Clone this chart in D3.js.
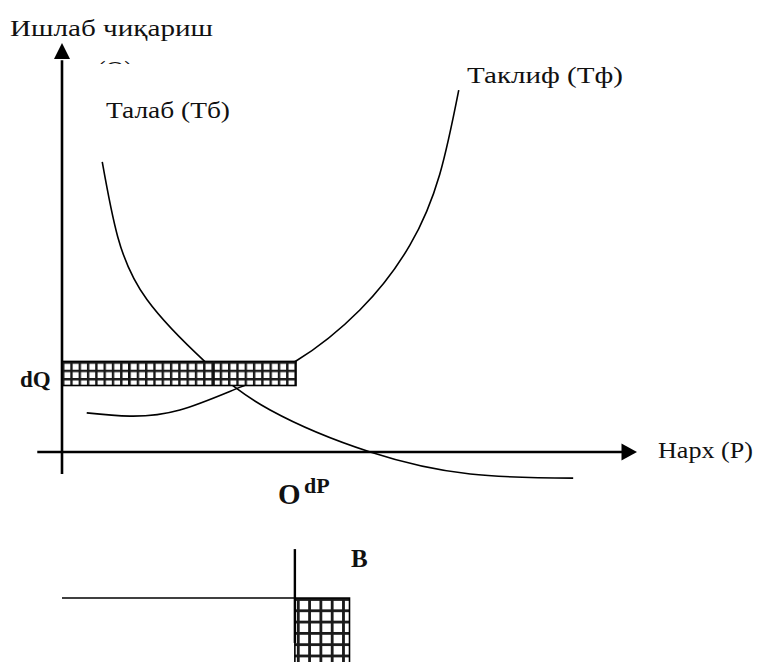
<!DOCTYPE html>
<html>
<head>
<meta charset="utf-8">
<script src="https://cdn.jsdelivr.net/npm/d3@7"></script>
<style>
    body { margin: 0; background: #fff; }
    text { font-family: "Liberation Serif", "DejaVu Serif", serif; fill: #111; }
    .bold { font-weight: bold; }
</style>
</head>
<body>
<svg id="chart" width="762" height="662"></svg>
<script>
// price (P) / quantity (Q) readings, axes 0..100
const demandP = [7.0, 9.7, 14.8, 24.9, 36.2, 53.6, 71.0, 88.9];
const demandQ = [71.1, 52.7, 37.3, 22.1, 10.3, 0, -5.4, -6.4];

const supplyP = [4.3, 11.8, 20.5, 31.0, 40.7, 51.8, 60.5, 65.7, 69.0];
const supplyQ = [9.6, 8.8, 10.3, 15.9, 22.3, 34.8, 50.7, 68.1, 88.7];

// dQ band
const bandP = [0, 40.7];
const bandQ = [16.3, 22.2];
const bandDividers = [11.65, 26.4];

// small inset below (B)
const insetLineP = [0, 40.5];
const insetLineQ = -35.8;
const insetStemQ = [-23.8, -46.8];
const insetBoxP = [40.5, 50.0];
const insetBoxQ = [-35.8, -53];

const labels = {
    yAxis: 'Ишлаб чиқариш',
    yAxisSub: '(Q)',
    demand: 'Талаб (Тб)',
    supply: 'Таклиф (Тф)',
    xAxis: 'Нарх (Р)'
};

const svg = d3.select('#chart');

const x = d3.scaleLinear().domain([0, 100]).range([62, 637]);
const y = d3.scaleLinear().domain([0, 100]).range([452, 44]);

const defs = svg.append('defs');

function grid(id, size, lw, x0, y0) {
    const p = defs.append('pattern')
        .attr('id', id)
        .attr('patternUnits', 'userSpaceOnUse')
        .attr('x', x0).attr('y', y0)
        .attr('width', size).attr('height', size);
    p.append('rect').attr('width', size).attr('height', size).attr('fill', '#fff');
    p.append('rect').attr('width', lw).attr('height', size).attr('fill', '#1a1a1a');
    p.append('rect').attr('width', size).attr('height', lw).attr('fill', '#1a1a1a');
}
grid('hatch', 8.3, 2.4, x(bandP[0]), y(bandQ[1]));
grid('hatch2', 11.3, 2.8, x(insetBoxP[0]) + 2, y(insetBoxQ[0]));

defs.append('clipPath').attr('id', 'qclip')
    .append('rect').attr('x', 0).attr('y', 0).attr('width', 300).attr('height', 64);

// axes
svg.append('line')
    .attr('x1', x(0)).attr('x2', x(0))
    .attr('y1', y(-5.4)).attr('y2', y(96))
    .attr('stroke', '#000').attr('stroke-width', 2.6);
svg.append('line')
    .attr('x1', x(-4.3)).attr('x2', x(97.5))
    .attr('y1', y(0)).attr('y2', y(0))
    .attr('stroke', '#000').attr('stroke-width', 2.6);

svg.append('path')
    .attr('d', `M${x(0)},${y(100) - 1} L${x(0) - 8},${y(96.3)} L${x(0) + 8},${y(96.3)} Z`)
    .attr('fill', '#000');
svg.append('path')
    .attr('d', `M${x(100)},${y(0)} L${x(97.3)},${y(0) - 8.5} L${x(97.3)},${y(0) + 8.5} Z`)
    .attr('fill', '#000');

// curves
const line = d3.line()
    .x(d => x(d[0]))
    .y(d => y(d[1]))
    .curve(d3.curveNatural);

svg.append('path')
    .datum(demandP.map((p, i) => [p, demandQ[i]]))
    .attr('d', line)
    .attr('fill', 'none').attr('stroke', '#000').attr('stroke-width', 1.6);

svg.append('path')
    .datum(supplyP.map((p, i) => [p, supplyQ[i]]))
    .attr('d', line)
    .attr('fill', 'none').attr('stroke', '#000').attr('stroke-width', 1.6);

// dQ band
svg.append('rect')
    .attr('x', x(bandP[0]))
    .attr('y', y(bandQ[1]))
    .attr('width', x(bandP[1]) - x(bandP[0]))
    .attr('height', y(bandQ[0]) - y(bandQ[1]))
    .attr('fill', 'url(#hatch)')
    .attr('stroke', '#000').attr('stroke-width', 1.6);

svg.selectAll('.divider')
    .data(bandDividers)
    .join('line')
    .attr('class', 'divider')
    .attr('x1', d => x(d)).attr('x2', d => x(d))
    .attr('y1', y(bandQ[1])).attr('y2', y(bandQ[0]))
    .attr('stroke', '#111').attr('stroke-width', 2);

// inset
svg.append('rect')
    .attr('x', x(insetBoxP[0]))
    .attr('y', y(insetBoxQ[0]))
    .attr('width', x(insetBoxP[1]) - x(insetBoxP[0]))
    .attr('height', y(insetBoxQ[1]) - y(insetBoxQ[0]))
    .attr('fill', 'url(#hatch2)')
    .attr('stroke', '#000').attr('stroke-width', 1.6);

svg.append('line')
    .attr('x1', x(insetLineP[0])).attr('x2', x(insetLineP[1]))
    .attr('y1', y(insetLineQ)).attr('y2', y(insetLineQ))
    .attr('stroke', '#000').attr('stroke-width', 1.6);

svg.append('line')
    .attr('x1', x(insetLineP[1])).attr('x2', x(insetLineP[1]))
    .attr('y1', y(insetStemQ[0])).attr('y2', y(insetStemQ[1]))
    .attr('stroke', '#000').attr('stroke-width', 2.4);

// texts (widths fitted to the Garamond-like original)
const fs = 23;
function label(txt, tx, ty, w) {
    return svg.append('text')
        .attr('x', tx).attr('y', ty)
        .attr('font-size', fs)
        .attr('textLength', w)
        .attr('lengthAdjust', 'spacingAndGlyphs')
        .text(txt);
}
label(labels.yAxis, 10, 36, 203);
label(labels.yAxisSub, 97, 77, 36).attr('clip-path', 'url(#qclip)');
label(labels.demand, 106, 118, 124);
label(labels.supply, 467, 83, 156);
label(labels.xAxis, 658, 458, 95);

svg.append('text').attr('class', 'bold').attr('x', 20).attr('y', 387).attr('font-size', 23).text('dQ');
svg.append('text').attr('class', 'bold').attr('x', 278).attr('y', 504).attr('font-size', 29).text('O');
svg.append('text').attr('class', 'bold').attr('x', 304).attr('y', 493).attr('font-size', 22).text('dP');
svg.append('text').attr('class', 'bold').attr('x', 351).attr('y', 567).attr('font-size', 25).text('B');
</script>
</body>
</html>
